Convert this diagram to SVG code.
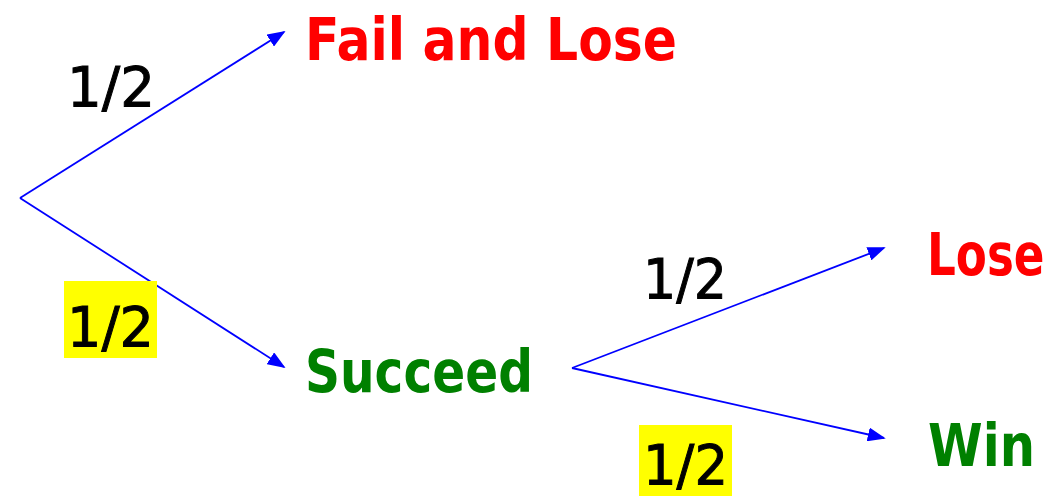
<svg xmlns="http://www.w3.org/2000/svg" width="1057" height="496" viewBox="0 0 1057 496">
<style>
.lbl{font-family:"DejaVu Sans","Liberation Sans",sans-serif;font-size:56px;fill:#000;stroke:#000;stroke-width:1}
.big{font-family:"DejaVu Sans","Liberation Sans",sans-serif;font-weight:bold;font-size:58px}
.red{fill:#FF0000}
.grn{fill:#008000}
.edge{stroke:#0000FF;stroke-width:1.8;fill:none;marker-end:url(#arr)}
.hl{fill:#FFFF00}
</style>
<defs>
<marker id="arr" viewBox="0 0 10 10" refX="9" refY="5" markerWidth="18" markerHeight="14" markerUnits="userSpaceOnUse" orient="auto" preserveAspectRatio="none">
<path d="M0,0 L10,5 L0,10 z" fill="#0000FF"/>
</marker>
</defs>
<rect width="1057" height="496" fill="#fff"/>
<g id="connectors">
<line class="edge" x1="20" y1="198" x2="284" y2="32"/>
<line class="edge" x1="20" y1="198" x2="284" y2="367"/>
<line class="edge" x1="572" y1="368" x2="884" y2="248"/>
<line class="edge" x1="572" y1="368" x2="884" y2="438"/>
</g>
<g id="label-top">
<text class="lbl" x="67" y="106" textLength="88" lengthAdjust="spacingAndGlyphs">1/2</text>
</g>
<g id="label-bottom">
<rect class="hl" x="64" y="281" width="93" height="77"/>
<text class="lbl" x="67" y="346" textLength="87" lengthAdjust="spacingAndGlyphs">1/2</text>
</g>
<g id="label-right-top">
<text class="lbl" x="643" y="298" textLength="84" lengthAdjust="spacingAndGlyphs">1/2</text>
</g>
<g id="label-right-bottom">
<rect class="hl" x="639" y="425" width="93" height="71"/>
<text class="lbl" x="643" y="484" font-size="54" textLength="85" lengthAdjust="spacingAndGlyphs">1/2</text>
</g>
<g id="fail-and-lose">
<text class="big red" x="305" y="60" textLength="372" lengthAdjust="spacingAndGlyphs">Fail and Lose</text>
</g>
<g id="succeed">
<text class="big grn" x="305" y="392" textLength="228" lengthAdjust="spacingAndGlyphs">Succeed</text>
</g>
<g id="lose">
<text class="big red" transform="translate(927,275) scale(0.78,1)" x="0" y="0">Lose</text>
</g>
<g id="win">
<text class="big grn" x="928" y="466" textLength="107" lengthAdjust="spacingAndGlyphs">Win</text>
</g>
</svg>
